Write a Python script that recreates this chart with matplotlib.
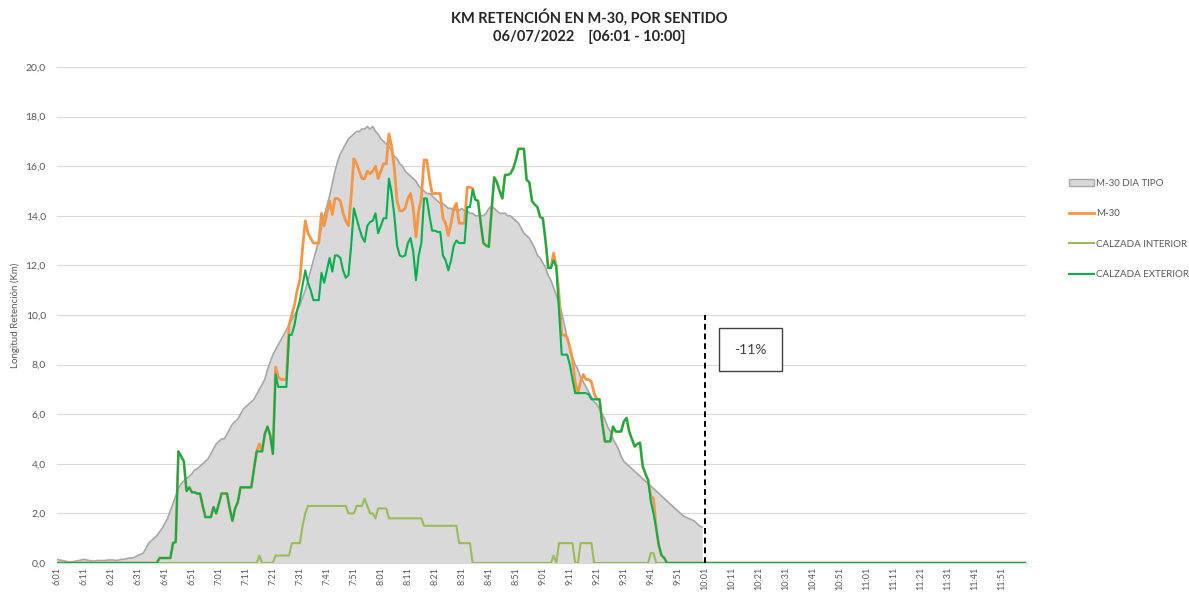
import numpy as np
import matplotlib.pyplot as plt
from matplotlib.patches import Patch
from matplotlib.lines import Line2D

plt.rcParams['font.family'] = ['Lato', 'DejaVu Sans']

# x axis: one point per minute from 6:01 to 12:00, labels every 10 minutes
tick_labels = ['6:01', '6:11', '6:21', '6:31', '6:41', '6:51',
               '7:01', '7:11', '7:21', '7:31', '7:41', '7:51',
               '8:01', '8:11', '8:21', '8:31', '8:41', '8:51',
               '9:01', '9:11', '9:21', '9:31', '9:41', '9:51',
               '10:01', '10:11', '10:21', '10:31', '10:41', '10:51',
               '11:01', '11:11', '11:21', '11:31', '11:41', '11:51']

# M-30 dia tipo (6:01 - 10:00)
dia_tipo = [
    0.15, 0.12, 0.10, 0.08, 0.05, 0.05, 0.05, 0.08, 0.10, 0.12,
    0.15, 0.12, 0.10, 0.08, 0.08, 0.10, 0.10, 0.10, 0.10, 0.12,
    0.12, 0.12, 0.10, 0.12, 0.15, 0.15, 0.18, 0.20, 0.20, 0.25,
    0.30, 0.35, 0.40, 0.60, 0.80, 0.90, 1.00, 1.10, 1.25, 1.40,
    1.60, 1.80, 2.10, 2.40, 2.70, 3.00, 3.20, 3.30, 3.40, 3.50,
    3.60, 3.75, 3.80, 3.90, 4.00, 4.10, 4.20, 4.40, 4.60, 4.80,
    4.90, 5.00, 5.00, 5.20, 5.40, 5.60, 5.70, 5.80, 6.00, 6.20,
    6.30, 6.40, 6.50, 6.60, 6.80, 7.00, 7.20, 7.40, 7.80, 8.10,
    8.40, 8.60, 8.80, 9.00, 9.20, 9.40, 9.60, 9.80, 10.00, 10.20,
    10.40, 10.70, 11.00, 11.40, 11.80, 12.20, 12.60, 13.00, 13.50, 14.00,
    14.40, 14.80, 15.30, 15.80, 16.20, 16.50, 16.70, 16.90, 17.10, 17.20,
    17.30, 17.40, 17.40, 17.50, 17.50, 17.60, 17.50, 17.60, 17.40, 17.30,
    17.10, 17.00, 16.90, 16.80, 16.60, 16.40, 16.30, 16.10, 16.00, 15.80,
    15.70, 15.60, 15.50, 15.40, 15.20, 15.10, 15.00, 14.90, 14.90, 14.80,
    14.70, 14.60, 14.50, 14.50, 14.40, 14.30, 14.30, 14.20, 14.30, 14.20,
    14.30, 14.20, 14.20, 14.10, 14.10, 14.00, 14.00, 14.00, 14.00, 14.10,
    14.30, 14.40, 14.30, 14.20, 14.10, 14.10, 14.10, 14.00, 14.00, 13.90,
    13.80, 13.70, 13.50, 13.30, 13.20, 13.10, 12.90, 12.70, 12.40, 12.30,
    12.10, 11.90, 11.60, 11.40, 11.10, 10.80, 10.50, 10.10, 9.60, 9.10,
    8.70, 8.30, 8.00, 7.80, 7.50, 7.30, 7.10, 6.90, 6.70, 6.50,
    6.40, 6.20, 6.00, 5.80, 5.50, 5.30, 5.00, 4.80, 4.60, 4.30,
    4.10, 4.00, 3.90, 3.80, 3.70, 3.60, 3.50, 3.40, 3.30, 3.20,
    3.10, 3.00, 2.90, 2.80, 2.70, 2.60, 2.50, 2.40, 2.30, 2.20,
    2.10, 2.00, 1.90, 1.85, 1.80, 1.75, 1.70, 1.60, 1.50, 1.45,
]

# M-30 total (6:01 - 10:00), zero afterwards
m30 = [
    0, 0, 0, 0, 0, 0, 0, 0, 0, 0,
    0, 0, 0, 0, 0, 0, 0, 0, 0, 0,
    0, 0, 0, 0, 0, 0, 0, 0, 0, 0,
    0, 0, 0, 0, 0, 0, 0, 0, 0.2, 0.2,
    0.2, 0.2, 0.2, 0.8, 0.85, 4.5, 4.3, 4.1, 2.9, 3.05,
    2.85, 2.85, 2.8, 2.8, 2.3, 1.85, 1.85, 1.85, 2.25, 2.0,
    2.4, 2.8, 2.8, 2.8, 2.2, 1.7, 2.2, 2.45, 3.05, 3.05,
    3.05, 3.05, 3.05, 3.8, 4.5, 4.8, 4.5, 5.2, 5.5, 5.15,
    4.4, 7.9, 7.5, 7.4, 7.4, 7.4, 9.6, 10.0, 10.4, 11.0,
    11.4, 12.7, 13.8, 13.3, 13.1, 12.9, 12.9, 12.9, 14.1, 13.6,
    14.1, 14.6, 14.05, 14.7, 14.7, 14.6, 14.1, 13.8, 13.6, 14.8,
    16.3, 16.1, 15.8, 15.5, 15.5, 15.8, 15.7, 15.8, 16.0, 15.5,
    15.8, 16.1, 16.1, 17.3, 16.8, 15.9, 14.6, 14.2, 14.2, 14.3,
    14.7, 14.9, 14.3, 13.15, 14.2, 14.7, 16.25, 16.25, 15.5, 14.9,
    14.9, 14.9, 14.9, 13.9, 13.7, 13.2, 13.7, 14.3, 14.5, 13.7,
    13.7, 13.7, 15.15, 15.15, 15.1, 14.65, 14.6, 13.7, 12.9, 12.8,
    12.75, 14.2, 15.55, 15.35, 15.0, 14.7, 15.65, 15.65, 15.7, 15.9,
    16.25, 16.7, 16.7, 16.7, 15.45, 15.35, 14.6, 14.45, 14.35, 13.95,
    13.9, 13.0, 11.9, 11.9, 12.5, 11.95, 10.8, 9.2, 9.2, 9.1,
    8.7, 8.2, 7.25, 6.85, 7.3, 7.6, 7.4, 7.4, 7.3, 6.85,
    6.6, 6.6, 5.65, 4.9, 4.9, 4.9, 5.5, 5.3, 5.3, 5.3,
    5.7, 5.85, 5.3, 5.0, 4.7, 4.8, 4.85, 3.9, 3.6, 3.35,
    2.7, 2.6, 1.4, 0.7, 0.3, 0.2, 0, 0, 0, 0,
    0, 0, 0, 0, 0, 0, 0, 0, 0, 0,
] + [0.0] * 120

interior = [
    0, 0, 0, 0, 0, 0, 0, 0, 0, 0,
    0, 0, 0, 0, 0, 0, 0, 0, 0, 0,
    0, 0, 0, 0, 0, 0, 0, 0, 0, 0,
    0, 0, 0, 0, 0, 0, 0, 0, 0, 0,
    0, 0, 0, 0, 0, 0, 0, 0, 0, 0,
    0, 0, 0, 0, 0, 0, 0, 0, 0, 0,
    0, 0, 0, 0, 0, 0, 0, 0, 0, 0,
    0, 0, 0, 0, 0, 0.3, 0, 0, 0, 0,
    0, 0.3, 0.3, 0.3, 0.3, 0.3, 0.3, 0.8, 0.8, 0.8,
    0.8, 1.5, 2.0, 2.3, 2.3, 2.3, 2.3, 2.3, 2.3, 2.3,
    2.3, 2.3, 2.3, 2.3, 2.3, 2.3, 2.3, 2.3, 2.0, 2.0,
    2.0, 2.3, 2.3, 2.3, 2.6, 2.3, 2.0, 2.0, 1.8, 2.2,
    2.2, 2.2, 2.2, 1.8, 1.8, 1.8, 1.8, 1.8, 1.8, 1.8,
    1.8, 1.8, 1.8, 1.8, 1.8, 1.8, 1.5, 1.5, 1.5, 1.5,
    1.5, 1.5, 1.5, 1.5, 1.5, 1.5, 1.5, 1.5, 1.5, 0.8,
    0.8, 0.8, 0.8, 0.8, 0, 0, 0, 0, 0, 0,
    0, 0, 0, 0, 0, 0, 0, 0, 0, 0,
    0, 0, 0, 0, 0, 0, 0, 0, 0, 0,
    0, 0, 0, 0, 0.3, 0, 0.8, 0.8, 0.8, 0.8,
    0.8, 0.8, 0, 0, 0.8, 0.8, 0.8, 0.8, 0.8, 0,
    0, 0, 0, 0, 0, 0, 0, 0, 0, 0,
    0, 0, 0, 0, 0, 0, 0, 0, 0, 0,
    0.4, 0.4, 0, 0, 0, 0, 0, 0, 0, 0,
    0, 0, 0, 0, 0, 0, 0, 0, 0, 0,
] + [0.0] * 120

exterior = [
    0, 0, 0, 0, 0, 0, 0, 0, 0, 0,
    0, 0, 0, 0, 0, 0, 0, 0, 0, 0,
    0, 0, 0, 0, 0, 0, 0, 0, 0, 0,
    0, 0, 0, 0, 0, 0, 0, 0, 0.2, 0.2,
    0.2, 0.2, 0.2, 0.8, 0.85, 4.5, 4.3, 4.1, 2.9, 3.05,
    2.85, 2.85, 2.8, 2.8, 2.3, 1.85, 1.85, 1.85, 2.25, 2.0,
    2.4, 2.8, 2.8, 2.8, 2.2, 1.7, 2.2, 2.45, 3.05, 3.05,
    3.05, 3.05, 3.05, 3.8, 4.5, 4.5, 4.5, 5.2, 5.5, 5.15,
    4.4, 7.6, 7.1, 7.1, 7.1, 7.1, 9.2, 9.2, 9.6, 10.2,
    10.6, 11.2, 11.8, 11.3, 11.0, 10.6, 10.6, 10.6, 11.7, 11.3,
    11.8, 12.3, 11.75, 12.4, 12.4, 12.3, 11.8, 11.5, 11.6, 12.8,
    14.3, 13.9, 13.5, 13.15, 12.95, 13.6, 13.75, 13.8, 14.1, 13.3,
    13.6, 13.9, 13.9, 15.5, 14.9, 14.0, 12.8, 12.4, 12.35, 12.4,
    12.9, 13.1, 12.55, 11.4, 12.4, 12.9, 14.7, 14.7, 14.0, 13.4,
    13.4, 13.35, 13.35, 12.4, 12.2, 11.8, 12.2, 12.8, 13.0, 12.9,
    12.9, 12.9, 14.35, 14.35, 15.05, 14.65, 14.6, 13.7, 12.9, 12.8,
    12.75, 14.2, 15.55, 15.35, 15.0, 14.7, 15.65, 15.65, 15.7, 15.9,
    16.25, 16.7, 16.7, 16.7, 15.45, 15.35, 14.6, 14.45, 14.35, 13.95,
    13.9, 13.0, 11.9, 11.9, 12.2, 11.95, 10.2, 8.4, 8.4, 8.4,
    8.0, 7.4, 6.85, 6.85, 6.85, 6.85, 6.85, 6.8, 6.6, 6.6,
    6.6, 6.6, 5.65, 4.9, 4.9, 4.9, 5.5, 5.3, 5.3, 5.3,
    5.7, 5.85, 5.3, 5.0, 4.7, 4.8, 4.85, 3.9, 3.6, 3.35,
    2.5, 2.0, 1.4, 0.7, 0.3, 0.2, 0, 0, 0, 0,
    0, 0, 0, 0, 0, 0, 0, 0, 0, 0,
] + [0.0] * 120

pct_label = '-11%'
cut_minute = 240  # 10:01

minutes = np.arange(len(m30))
x_tipo = minutes[:len(dia_tipo)]

fig = plt.figure(figsize=(11.89, 5.94), dpi=100)
ax = fig.add_axes([0.0479, 0.0522, 0.815, 0.835])

ax.fill_between(x_tipo, dia_tipo, color='#d9d9d9', lw=0, zorder=1)
ax.plot(x_tipo, dia_tipo, color='#a6a6a6', lw=1.2, zorder=2)
ax.plot(minutes, m30, color='#f79646', lw=2.0, zorder=3)
ax.plot(minutes, interior, color='#9bbb59', lw=1.5, zorder=4)
ax.plot(minutes, exterior, color='#00b050', lw=1.5, zorder=5)

ax.vlines(cut_minute, 0, 10, colors='black', linestyles=(0, (3, 2)), lw=1.4, zorder=6)
ax.text(257, 8.6, pct_label, ha='center', va='center', fontsize=10, color='#404040',
        bbox=dict(boxstyle='square,pad=1.1', fc='white', ec='#404040', lw=1), zorder=7)

ax.set_xlim(0, len(m30) - 1)
ax.set_ylim(0, 20)
ax.set_yticks(range(0, 21, 2))
ax.set_yticklabels([f'{v:.1f}'.replace('.', ',') for v in range(0, 21, 2)])
ax.set_xticks(range(0, len(m30), 10))
ax.set_xticklabels(tick_labels, rotation=90)
ax.tick_params(axis='both', length=0, colors='#595959', labelsize=7.5)
ax.tick_params(axis='x', pad=3, labelsize=6.5)
ax.tick_params(axis='y', pad=8)

ax.yaxis.grid(True, color='#d9d9d9', lw=0.8)
ax.set_axisbelow(True)
for s in ['top', 'right', 'left']:
    ax.spines[s].set_visible(False)
ax.spines['bottom'].set_color('#d9d9d9')

fig.text(15 / 1189, 0.47, 'Longitud Retención (Km)', rotation=90, ha='center', va='center',
         fontsize=7, color='#595959')
fig.text(0.496, 1 - 17 / 594, 'KM RETENCIÓN EN M-30, POR SENTIDO', ha='center', va='center',
         fontsize=10.5, weight='bold', color='#262626')
fig.text(0.496, 1 - 37 / 594, '06/07/2022    [06:01 - 10:00]', ha='center', va='center',
         fontsize=10.5, weight='bold', color='#262626')

handles = [Patch(facecolor='#d9d9d9', edgecolor='#a6a6a6'),
           Line2D([], [], color='#f79646', lw=2.0),
           Line2D([], [], color='#9bbb59', lw=1.5),
           Line2D([], [], color='#00b050', lw=1.5)]
labels = ['M-30 DIA TIPO', 'M-30', 'CALZADA INTERIOR', 'CALZADA EXTERIOR']
fig.legend(handles, labels, loc='upper left', bbox_to_anchor=(1064 / 1189, 1 - 174 / 594),
           frameon=False, fontsize=7, labelcolor='#595959', labelspacing=2.2,
           handlelength=2.6, handletextpad=0.2, borderpad=0)

fig.savefig('out.png', dpi=100)
